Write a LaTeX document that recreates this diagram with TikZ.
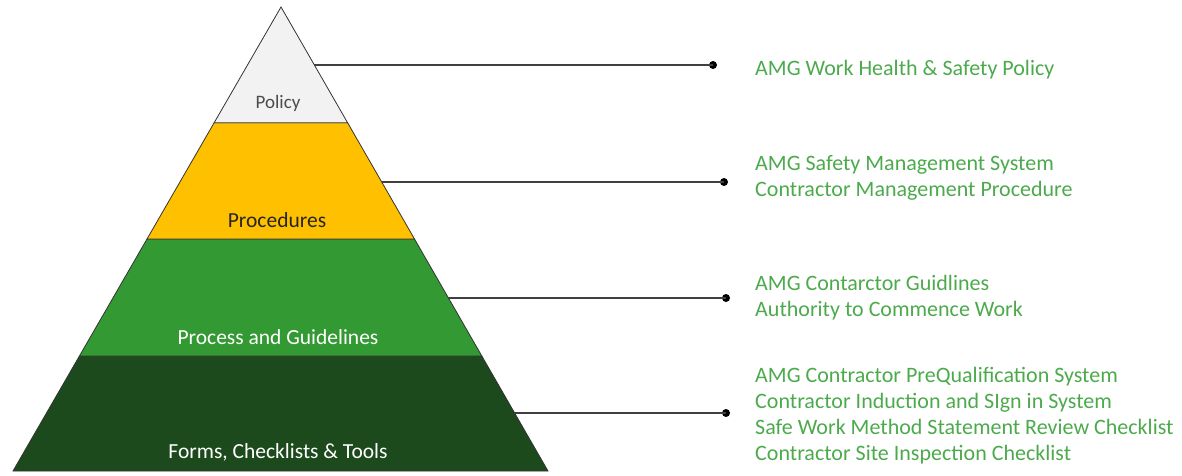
\documentclass[tikz,border=0pt]{standalone}
\usepackage{fontspec}
\setmainfont{Carlito}
\usetikzlibrary{calc}

\definecolor{policyfill}{RGB}{242,242,242}
\definecolor{procfill}{RGB}{255,192,0}
\definecolor{guidefill}{RGB}{51,153,51}
\definecolor{formfill}{RGB}{28,74,28}
\definecolor{itemgreen}{RGB}{76,170,76}
\definecolor{linkgray}{RGB}{64,64,64}

\tikzset{
  layer/.style={draw=black!80, line width=0.8pt},
  tag/.style={font=\fontsize{21.5}{24}\selectfont},
  item/.style={anchor=west, align=left, text=itemgreen, inner sep=0pt,
    font=\fontsize{22}{26}\selectfont},
  link/.style={draw=linkgray, line width=1.2pt},
  pin/.style={circle, fill=black, inner sep=0pt, minimum size=8pt}
}

\begin{document}
\begin{tikzpicture}[x=1pt,y=-1pt]
\useasboundingbox (0,0) rectangle (1182,475);

% pyramid corners
\coordinate (apex) at (281,7);
\coordinate (bl) at (13,471);
\coordinate (br) at (548,471);

% layer borders
\coordinate (l1) at ($(apex)!0.2495!(bl)$);
\coordinate (r1) at ($(apex)!0.2495!(br)$);
\coordinate (l2) at ($(apex)!0.5!(bl)$);
\coordinate (r2) at ($(apex)!0.5!(br)$);
\coordinate (l3) at ($(apex)!0.7522!(bl)$);
\coordinate (r3) at ($(apex)!0.7522!(br)$);

\filldraw[layer, fill=formfill] (l3) -- (r3) -- (br) -- (bl) -- cycle;
\filldraw[layer, fill=guidefill] (l2) -- (r2) -- (r3) -- (l3) -- cycle;
\filldraw[layer, fill=procfill] (l1) -- (r1) -- (r2) -- (l2) -- cycle;
\filldraw[layer, fill=policyfill] (apex) -- (r1) -- (l1) -- cycle;

\node[tag, text=black!70, font=\fontsize{19}{22}\selectfont] (policy) at (278,103) {Policy};
\node[tag, text=black!85] (procedures) at (277,220) {Procedures};
\node[tag, text=white] (process) at (278,337) {Process and Guidelines};
\node[tag, text=white] (forms) at (278,452) {Forms, Checklists \& Tools};

% edge points for the links
\coordinate (e1) at ($(apex)!0.125!(br)$);
\coordinate (e2) at ($(apex)!0.377!(br)$);
\coordinate (e3) at ($(apex)!0.627!(br)$);
\coordinate (e4) at ($(apex)!0.875!(br)$);

\node[pin] (p1) at (713,65) {};
\node[pin] (p2) at (724,182) {};
\node[pin] (p3) at (726,298) {};
\node[pin] (p4) at (726,413) {};

\draw[link] (e1) -- (e1 -| p1.center);
\draw[link] (e2) -- (e2 -| p2.center);
\draw[link] (e3) -- (e3 -| p3.center);
\draw[link] (e4) -- (e4 -| p4.center);

\node[item] (t1) at (755,70) {AMG Work Health \& Safety Policy};
\node[item] (t2) at (755,178) {AMG Safety Management System\\Contractor Management Procedure};
\node[item] (t3) at (755,298) {AMG Contarctor Guidlines\\Authority to Commence Work};
\node[item] (t4) at (755,416) {AMG Contractor PreQualification System\\Contractor Induction and SIgn in System\\Safe Work Method Statement Review Checklist\\Contractor Site Inspection Checklist};
\end{tikzpicture}
\end{document}
